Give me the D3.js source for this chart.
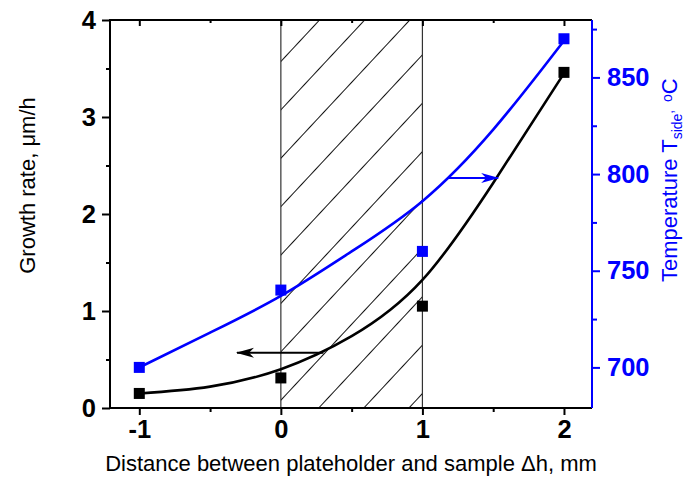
<html>
<head>
<meta charset="utf-8">
<title>Growth rate and temperature</title>
<script src="https://cdnjs.cloudflare.com/ajax/libs/d3/7.8.5/d3.min.js"></script>
<style>
body { margin: 0; background: #fff; }
text { font-family: "Liberation Sans", Arial, sans-serif; }
.tick text { font-weight: bold; font-size: 25.5px; }
</style>
</head>
<body>
<svg id="chart" width="686" height="477"></svg>
<script>
// measured points
var positions = [-1, 0, 1, 2];
var growthRate = [0.15, 0.31, 1.05, 3.46];
var temperature = [700, 740, 760, 870];

// fitted curves
var fitX = [-1, -0.5, 0, 0.5, 1, 1.5, 2];
var growthFit = [0.15, 0.22, 0.40, 0.74, 1.32, 2.32, 3.45];
var tempFit = [700, 718, 737, 760, 786, 823, 869];

// ticks
var xMajor = [-1, 0, 1, 2];
var xMinor = [-0.5, 0.5, 1.5];
var yMajor = [0, 1, 2, 3, 4];
var yMinor = [0.5, 1.5, 2.5, 3.5];
var tMajor = [700, 750, 800, 850];
var tMinor = [725, 775, 825, 875];

// shaded zone and arrows
var zone = [0, 1];
var growthArrow = [[0.3, 0.57], [-0.31, 0.57]];
var tempArrow = [[1.18, 798], [1.535, 798]];

var blue = '#0000ff';
var svg = d3.select('#chart');
var pLeft = 110, pRight = 592, pTop = 20, pBottom = 408;

var x = d3.scaleLinear().domain([-1.207, 2.198]).range([pLeft, pRight]);
var y = d3.scaleLinear().domain([0, 4]).range([pBottom, pTop]);
var yT = d3.scaleLinear().domain([679, 879.7]).range([pBottom, pTop]);

var defs = svg.append('defs');
defs.append('pattern')
    .attr('id', 'hatch')
    .attr('patternUnits', 'userSpaceOnUse')
    .attr('width', 33).attr('height', 200)
    .attr('patternTransform', 'translate(' + (x(0) + 38) + ',' + pTop + ') rotate(43)')
    .append('line')
    .attr('x1', 0.5).attr('y1', -5).attr('x2', 0.5).attr('y2', 205)
    .attr('stroke', '#111').attr('stroke-width', 1);

function arrowMarker(id, color) {
    defs.append('marker')
        .attr('id', id)
        .attr('markerUnits', 'userSpaceOnUse')
        .attr('viewBox', '-18 -6 20 12')
        .attr('markerWidth', 20).attr('markerHeight', 12)
        .attr('refX', 0).attr('refY', 0)
        .attr('orient', 'auto')
        .append('path')
        .attr('d', 'M1,0 L-17,-5 L-12,0 L-17,5 Z')
        .attr('fill', color);
}
arrowMarker('arrBlack', '#000');
arrowMarker('arrBlue', blue);

// hatched zone
svg.append('rect')
    .attr('x', x(zone[0])).attr('y', pTop)
    .attr('width', x(zone[1]) - x(zone[0])).attr('height', pBottom - pTop)
    .attr('fill', 'url(#hatch)');
svg.selectAll('.zoneline')
    .data(zone)
    .enter()
    .append('line')
    .attr('x1', function (d) { return x(d); })
    .attr('x2', function (d) { return x(d); })
    .attr('y1', pTop).attr('y2', pBottom)
    .attr('stroke', '#333').attr('stroke-width', 1.2);

// axes
function styleAxis(g, color) {
    g.select('.domain').remove();
    g.selectAll('line').attr('stroke', color).attr('stroke-width', 2);
    g.selectAll('text').attr('fill', color);
}
var gx = svg.append('g').attr('transform', 'translate(0,' + pBottom + ')');
gx.call(d3.axisBottom(x).tickValues(xMajor).tickSize(7).tickPadding(5)
    .tickFormat(function (d) { return d < 0 ? '-' + Math.abs(d) : d; }));
styleAxis(gx, '#000');
var gx2 = svg.append('g').attr('transform', 'translate(0,' + pBottom + ')');
gx2.call(d3.axisBottom(x).tickValues(xMinor).tickSize(4).tickFormat(''));
styleAxis(gx2, '#000');

var gTop = svg.append('g').attr('transform', 'translate(0,' + pTop + ')');
gTop.call(d3.axisBottom(x).tickValues(xMajor).tickSize(6).tickFormat(''));
styleAxis(gTop, '#000');
var gTop2 = svg.append('g').attr('transform', 'translate(0,' + pTop + ')');
gTop2.call(d3.axisBottom(x).tickValues(xMinor).tickSize(3).tickFormat(''));
styleAxis(gTop2, '#000');

var gy = svg.append('g').attr('transform', 'translate(' + pLeft + ',0)');
gy.call(d3.axisLeft(y).tickValues(yMajor).tickSize(8).tickPadding(6)
    .tickFormat(d3.format('d')));
styleAxis(gy, '#000');
var gy2 = svg.append('g').attr('transform', 'translate(' + pLeft + ',0)');
gy2.call(d3.axisLeft(y).tickValues(yMinor).tickSize(4).tickFormat(''));
styleAxis(gy2, '#000');

var gt = svg.append('g').attr('transform', 'translate(' + pRight + ',0)');
gt.call(d3.axisRight(yT).tickValues(tMajor).tickSize(8).tickPadding(7));
styleAxis(gt, blue);
var gt2 = svg.append('g').attr('transform', 'translate(' + pRight + ',0)');
gt2.call(d3.axisRight(yT).tickValues(tMinor).tickSize(5).tickFormat(''));
styleAxis(gt2, blue);

// frame
svg.append('path')
    .attr('d', 'M' + pRight + ',' + pTop + 'H' + pLeft + 'V' + pBottom + 'H' + pRight)
    .attr('fill', 'none').attr('stroke', '#000').attr('stroke-width', 2);
svg.append('line')
    .attr('x1', pRight).attr('x2', pRight).attr('y1', pTop).attr('y2', pBottom)
    .attr('stroke', blue).attr('stroke-width', 2);

// fit curves
var growthLine = d3.line()
    .x(function (d, i) { return x(fitX[i]); })
    .y(function (d) { return y(d); })
    .curve(d3.curveNatural);
var tempLine = d3.line()
    .x(function (d, i) { return x(fitX[i]); })
    .y(function (d) { return yT(d); })
    .curve(d3.curveNatural);
svg.append('path').attr('d', growthLine(growthFit))
    .attr('fill', 'none').attr('stroke', '#000').attr('stroke-width', 2.6);
svg.append('path').attr('d', tempLine(tempFit))
    .attr('fill', 'none').attr('stroke', blue).attr('stroke-width', 2.6);

// markers
var sz = 11;
svg.selectAll('.gr')
    .data(growthRate)
    .enter()
    .append('rect')
    .attr('x', function (d, i) { return x(positions[i]) - sz / 2; })
    .attr('y', function (d) { return y(d) - sz / 2; })
    .attr('width', sz).attr('height', sz)
    .attr('fill', '#000');
svg.selectAll('.tp')
    .data(temperature)
    .enter()
    .append('rect')
    .attr('x', function (d, i) { return x(positions[i]) - sz / 2; })
    .attr('y', function (d) { return yT(d) - sz / 2; })
    .attr('width', sz).attr('height', sz)
    .attr('fill', blue);

// arrows
svg.append('line')
    .attr('x1', x(growthArrow[0][0])).attr('y1', y(growthArrow[0][1]))
    .attr('x2', x(growthArrow[1][0])).attr('y2', y(growthArrow[1][1]))
    .attr('stroke', '#000').attr('stroke-width', 2)
    .attr('marker-end', 'url(#arrBlack)');
svg.append('line')
    .attr('x1', x(tempArrow[0][0])).attr('y1', yT(tempArrow[0][1]))
    .attr('x2', x(tempArrow[1][0])).attr('y2', yT(tempArrow[1][1]))
    .attr('stroke', blue).attr('stroke-width', 2)
    .attr('marker-end', 'url(#arrBlue)');

// titles
svg.append('text')
    .attr('x', 351).attr('y', 471)
    .attr('text-anchor', 'middle')
    .attr('font-size', 22)
    .text('Distance between plateholder and sample \u0394h, mm');

svg.append('text')
    .attr('transform', 'translate(35,185.5) rotate(-90)')
    .attr('text-anchor', 'middle')
    .attr('font-size', 22)
    .text('Growth rate, \u03bcm/h');

var rt = svg.append('text')
    .attr('transform', 'translate(677,282) rotate(-90)')
    .attr('font-size', 22)
    .attr('fill', blue);
rt.append('tspan').text('Temperature T');
rt.append('tspan').attr('font-size', 14).attr('dy', 5).text('side');
rt.append('tspan').attr('font-size', 14).attr('dy', -9).text(',');
rt.append('tspan').attr('font-size', 14).attr('dy', 4).text('\u00a0\u00a0');
rt.append('tspan').attr('font-size', 14).attr('dy', -5).text('o');
rt.append('tspan').attr('dy', 5).text('C');
</script>
</body>
</html>
